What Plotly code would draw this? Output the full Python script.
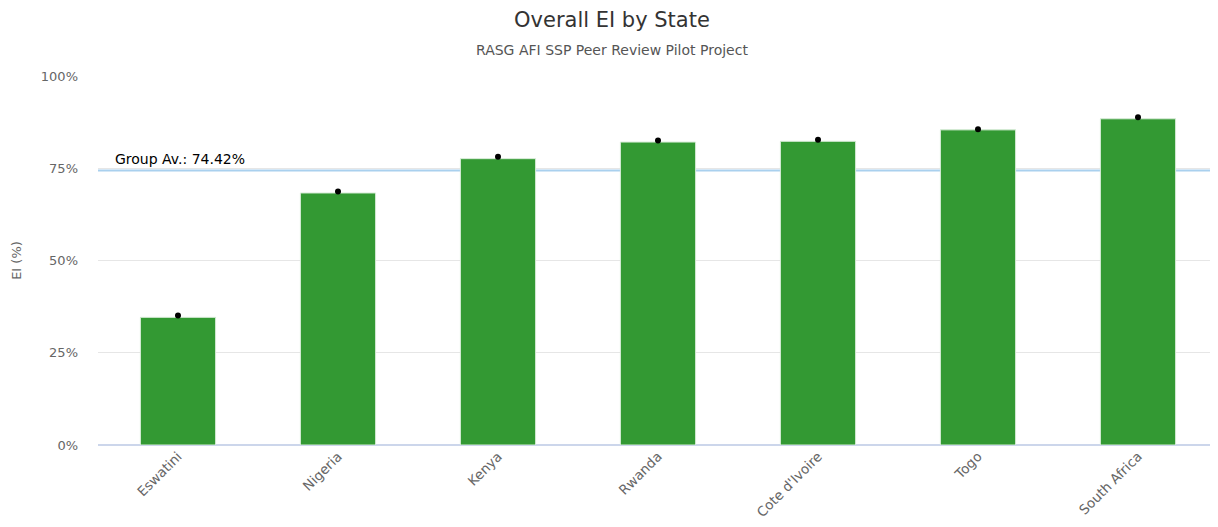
import plotly.graph_objects as go

states = ["Eswatini", "Nigeria", "Kenya", "Rwanda", "Cote d'Ivoire", "Togo", "South Africa"]
ei_values = [34.6, 68.3, 77.6, 82.1, 82.3, 85.4, 88.4]
dot_values = [35.1, 68.7, 78.1, 82.5, 82.7, 85.6, 88.8]
group_avg = 74.42
y_ticks = [0, 25, 50, 75, 100]
y_tick_labels = ["0%", "25%", "50%", "75%", "100%"]

FONT = "DejaVu Sans, Verdana, sans-serif"

fig = go.Figure()
fig.add_trace(go.Bar(
    x=states, y=ei_values,
    marker=dict(color="#339933", line=dict(color="#d8ecd8", width=1)),
    width=0.47, hoverinfo="x+y", showlegend=False,
))
fig.add_trace(go.Scatter(
    x=states, y=dot_values, mode="markers",
    marker=dict(color="#000000", size=6), showlegend=False,
))
fig.add_shape(type="line", xref="paper", yref="y", x0=0, x1=1,
              y0=group_avg, y1=group_avg,
              line=dict(color="#a9d0ee", width=2), layer="below")
fig.add_annotation(xref="paper", yref="y", x=0.013, y=group_avg,
                   text=f"Group Av.: {group_avg:.2f}%", showarrow=False,
                   xanchor="left", yanchor="bottom", yshift=1,
                   font=dict(family=FONT, size=14, color="#000000"))
fig.add_annotation(xref="paper", yref="paper", x=0.459, y=1, yshift=56,
                   text="Overall EI by State", showarrow=False,
                   xanchor="center", yanchor="middle",
                   font=dict(family=FONT, size=21, color="#333333"))
fig.add_annotation(xref="paper", yref="paper", x=0.459, y=1, yshift=26,
                   text="RASG AFI SSP Peer Review Pilot Project", showarrow=False,
                   xanchor="center", yanchor="middle",
                   font=dict(family=FONT, size=14, color="#555555"))

fig.update_layout(
    width=1210, height=519,
    margin=dict(l=90, r=0, t=68, b=82),
    paper_bgcolor="white", plot_bgcolor="white",
    font=dict(family=FONT, color="#666666"),
    xaxis=dict(
        tickangle=-45, tickfont=dict(family=FONT, size=13.5, color="#666666"),
        showgrid=False, showline=False, zeroline=False, ticks="",
        range=[-0.5, 6.5], automargin=False,
    ),
    yaxis=dict(
        range=[0, 100], tickvals=y_ticks, ticktext=y_tick_labels,
        tickfont=dict(family=FONT, size=13, color="#666666"),
        gridcolor="#e6e6e6", gridwidth=1,
        zeroline=True, zerolinecolor="#ccd6eb", zerolinewidth=2,
        title=dict(text="EI (%)", font=dict(family=FONT, size=13, color="#666666"), standoff=16),
        ticklabelstandoff=19, automargin=False,
    ),
)

fig.write_html("out.html")
